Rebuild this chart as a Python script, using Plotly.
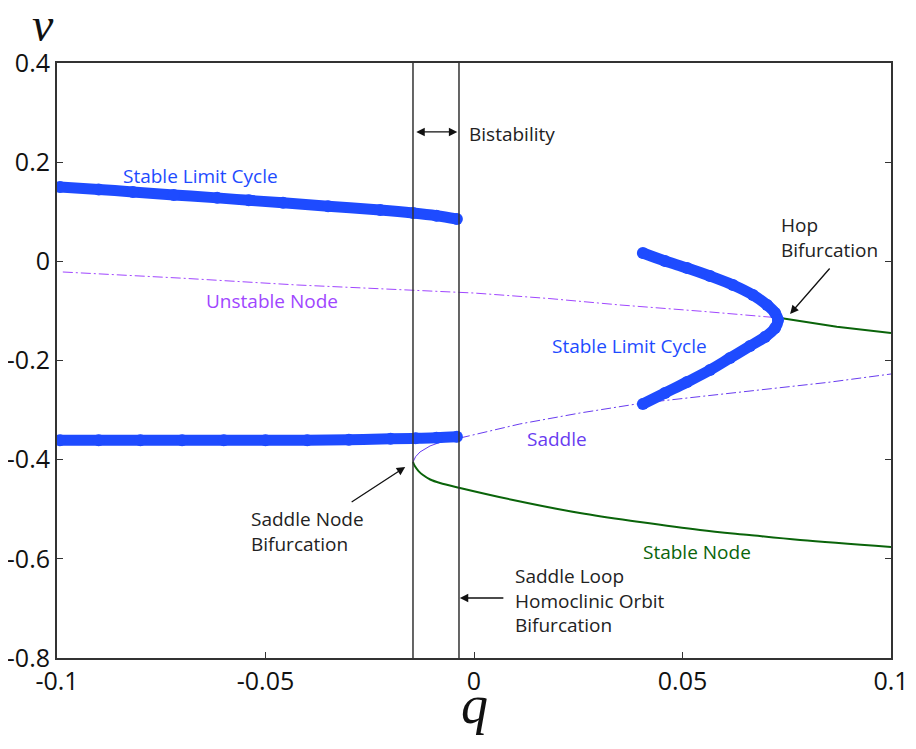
import plotly.graph_objects as go

# ---- data ----
# upper stable limit cycle (left)
lc_up_q = [-0.0993, -0.0900, -0.0818, -0.0720, -0.0616, -0.0540, -0.0458, -0.0350, -0.0225, -0.0146, -0.0090, -0.0041]
lc_up_v = [0.150, 0.145, 0.140, 0.134, 0.128, 0.123, 0.118, 0.111, 0.1035, 0.0975, 0.092, 0.0854]
# lower stable limit cycle (left)
lc_lo_q = [-0.0993, -0.0900, -0.0800, -0.0700, -0.0600, -0.0500, -0.0400, -0.0300, -0.0200, -0.0140, -0.0090, -0.0041]
lc_lo_v = [-0.361, -0.361, -0.361, -0.361, -0.361, -0.361, -0.361, -0.360, -0.358, -0.357, -0.356, -0.354]
# stable limit cycle born at Hopf (right)
hopf_lc_q = [0.0405, 0.0458, 0.0511, 0.0566, 0.0621, 0.0669, 0.0703, 0.0722, 0.0729, 0.0722, 0.0698, 0.0662, 0.0614, 0.0566, 0.0511, 0.0458, 0.0405]
hopf_lc_v = [0.0168, 0.0007, -0.0134, -0.0296, -0.0477, -0.0679, -0.0881, -0.1042, -0.1183, -0.1345, -0.1526, -0.1707, -0.1950, -0.2192, -0.2434, -0.2655, -0.2877]
# unstable node branch
un_q = [-0.0986, -0.0700, -0.0424, -0.0200, 0.0000, 0.0180, 0.0350, 0.0550, 0.0731]
un_v = [-0.0215, -0.0340, -0.0477, -0.0560, -0.0639, -0.0750, -0.0880, -0.1010, -0.1140]
# stable node (upper, after Hopf)
sn_up_q = [0.0731, 0.0870, 0.1000]
sn_up_v = [-0.1140, -0.1321, -0.1445]
# saddle branch (near fold, solid)
sad_a_q = [-0.01463, -0.01400, -0.01295, -0.01180, -0.01055, -0.00880, -0.00695, -0.00336]
sad_a_v = [-0.4047, -0.3940, -0.3845, -0.3780, -0.3724, -0.3670, -0.3623, -0.3563]
# saddle branch (dash-dot)
sad_b_q = [-0.00336, 0.0110, 0.0254, 0.0405, 0.0550, 0.0686, 0.0850, 0.1000]
sad_b_v = [-0.3563, -0.3280, -0.3059, -0.2857, -0.2720, -0.2595, -0.2440, -0.2272]
# stable node (lower)
sn_lo_q = [-0.01463, -0.01420, -0.01330, -0.01223, -0.01050, -0.00815, -0.00336, 0.00935, 0.0254, 0.0398, 0.0542, 0.0660, 0.0782, 0.1000]
sn_lo_v = [-0.4047, -0.4130, -0.4230, -0.4309, -0.4400, -0.4471, -0.4571, -0.4813, -0.5076, -0.5257, -0.5418, -0.5520, -0.5620, -0.5760]

q_ticks = [-0.1, -0.05, 0, 0.05, 0.1]
q_tick_text = ["-0.1", "-0.05", "0", "0.05", "0.1"]
v_ticks = [-0.8, -0.6, -0.4, -0.2, 0, 0.2, 0.4]
v_tick_text = ["-0.8", "-0.6", "-0.4", "-0.2", "0", "0.2", "0.4"]

sn_q = -0.01463      # saddle-node bifurcation
hom_q = -0.0036      # homoclinic bifurcation

BLUE = "rgb(30,75,255)"
PURPLE = "rgb(160,70,255)"
SADDLE = "rgb(105,60,240)"
GREEN = "rgb(10,100,10)"
FONT = "Open Sans"

fig = go.Figure()
DD = "10px,3px,2px,3px"

fig.add_trace(go.Scatter(x=un_q, y=un_v, mode="lines", line=dict(color=PURPLE, width=1, dash=DD)))
fig.add_trace(go.Scatter(x=sad_a_q, y=sad_a_v, mode="lines", line=dict(color=SADDLE, width=1)))
fig.add_trace(go.Scatter(x=sad_b_q, y=sad_b_v, mode="lines", line=dict(color=SADDLE, width=1, dash=DD)))
fig.add_trace(go.Scatter(x=sn_up_q, y=sn_up_v, mode="lines", line=dict(color=GREEN, width=2)))
fig.add_trace(go.Scatter(x=sn_lo_q, y=sn_lo_v, mode="lines", line=dict(color=GREEN, width=2, shape="spline")))

for xs, ys in [(lc_up_q, lc_up_v), (lc_lo_q, lc_lo_v), (hopf_lc_q, hopf_lc_v)]:
    fig.add_trace(go.Scatter(x=xs, y=ys, mode="lines+markers",
                             line=dict(color=BLUE, width=11, shape="spline"),
                             marker=dict(color=BLUE, size=12)))

# vertical lines
for qq in [sn_q, hom_q]:
    fig.add_shape(type="line", x0=qq, x1=qq, y0=0, y1=1, xref="x", yref="paper",
                  line=dict(color="#333333", width=1.5))

def label(text, x, y, color, xanchor="center", size=19, align="center"):
    fig.add_annotation(x=x, y=y, text=text, showarrow=False, xanchor=xanchor, yanchor="middle",
                       align=align, font=dict(family=FONT, size=size, color=color))

label("Stable Limit Cycle", -0.0657, 0.172, BLUE)
label("Unstable Node", -0.0484, -0.080, PURPLE)
label("Stable Limit Cycle", 0.0374, -0.171, BLUE)
label("Saddle", 0.0199, -0.358, SADDLE)
label("Stable Node", 0.0535, -0.586, GREEN)
label("Bistability", -0.0017, 0.257, "#222", xanchor="left")
label("Hop<br>Bifurcation", 0.0731, 0.049, "#222", xanchor="left", align="left")
label("Saddle Node<br>Bifurcation", -0.0540, -0.544, "#222", xanchor="left", align="left")
label("Saddle Loop<br>Homoclinic Orbit<br>Bifurcation", 0.00935, -0.685, "#222", xanchor="left", align="left")

def arrow(x, y, ax, ay, side="end"):
    fig.add_annotation(x=x, y=y, ax=ax, ay=ay, xref="x", yref="y", axref="x", ayref="y",
                       text="", showarrow=True, arrowhead=2, arrowsize=1.3, arrowwidth=1.3,
                       arrowcolor="#111", arrowside=side, startarrowhead=2, startarrowsize=1.3)

arrow(0.0758, -0.106, 0.0856, -0.0114)
arrow(-0.0165, -0.4148, -0.0297, -0.4874)
arrow(-0.0034, -0.679, 0.0074, -0.679)
arrow(-0.0040, 0.261, -0.0142, 0.261, side="end+start")

# axis titles
fig.add_annotation(x=-0.0168, y=1.0655, xref="paper", yref="paper", text="<i>v</i>", showarrow=False,
                   xanchor="center", yanchor="middle", height=34, valign="middle",
                   font=dict(family="Liberation Serif", size=48, color="#111"))
fig.add_annotation(x=0.5, y=-0.1328, xref="paper", yref="paper", text="<i>q</i>", showarrow=False,
                   xanchor="center", yanchor="bottom", height=45, valign="bottom",
                   font=dict(family="Liberation Serif", size=54, color="#111"))

fig.update_layout(
    width=908, height=741,
    margin=dict(l=49, r=25, t=55, b=91),
    plot_bgcolor="white", paper_bgcolor="white",
    showlegend=False,
    font=dict(family=FONT, size=25, color="#111"),
)
fig.update_xaxes(range=[-0.1, 0.1], tickvals=q_ticks, ticktext=q_tick_text, automargin=False,
                 showgrid=False, zeroline=False, showline=True, linecolor="#333", linewidth=2,
                 mirror=True, ticks="inside", ticklen=6, tickcolor="#333", tickwidth=1)
fig.update_yaxes(range=[-0.8, 0.4], tickvals=v_ticks, ticktext=v_tick_text, automargin=False,
                 showgrid=False, zeroline=False, showline=True, linecolor="#333", linewidth=2,
                 mirror="ticks", ticks="inside", ticklen=6, tickcolor="#333", tickwidth=1)

fig.write_html("out.html")
